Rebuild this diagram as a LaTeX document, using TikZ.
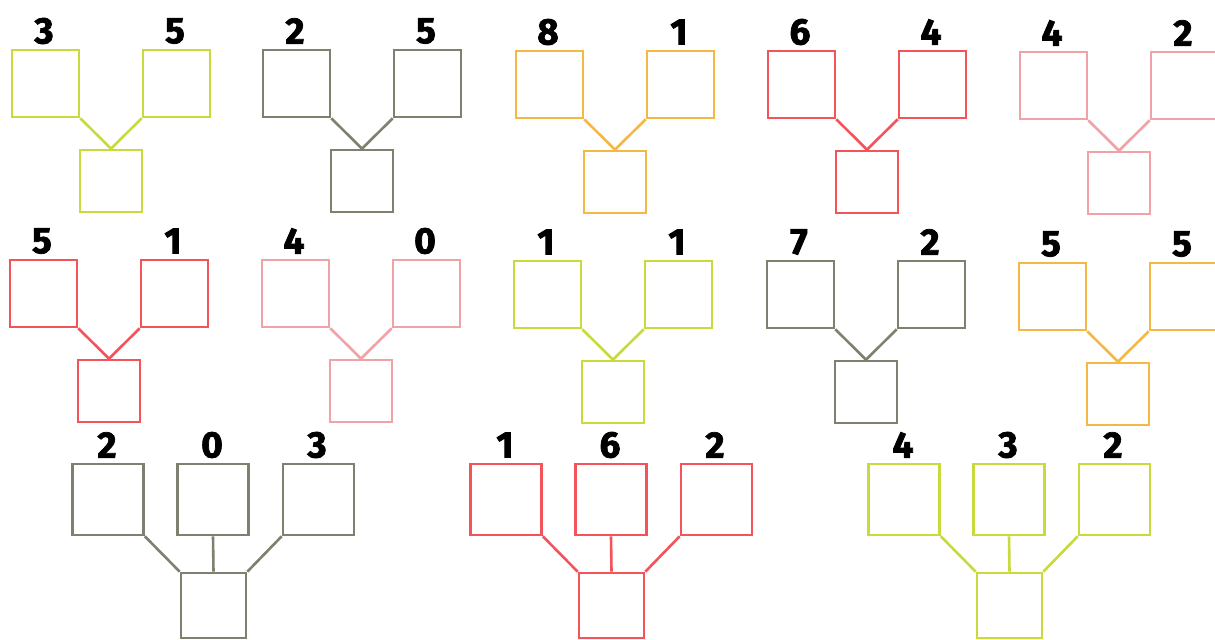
\documentclass[tikz,border=0pt]{standalone}
\usepackage{fontspec}
\setmainfont{Fira Sans}
\newfontfamily\numfont{Fira Sans}[BoldFeatures={FakeBold=2}]
\definecolor{clime}{HTML}{C8DA3C}
\definecolor{cgray}{HTML}{7E8070}
\definecolor{corange}{HTML}{F6B844}
\definecolor{cred}{HTML}{F2545A}
\definecolor{cpink}{HTML}{F0A2A6}
\tikzset{
  box/.style={draw=#1, line width=1.3pt, inner sep=0pt, minimum size=33.5pt},
  sbox/.style={draw=#1, line width=1.3pt, inner sep=0pt, minimum size=31pt},
  wbox/.style={draw=#1, line width=1.3pt, inner sep=0pt, minimum size=35.5pt},
  bbox/.style={draw=#1, line width=1.3pt, inner sep=0pt, minimum size=32.5pt},
  num/.style={font=\numfont\bfseries\fontsize{18.5}{18.5}\selectfont, inner sep=0pt},
  link/.style={draw=#1, line width=1.3pt}
}
\newcommand\twogroup[6]{%
  \node[box=#4] (#1L) at ({#2+33.5},{#3+33.5}) {};
  \node[box=#4] (#1R) at ({#2+164.5},{#3+33.5}) {};
  \node[sbox=#4] (#1B) at ({#2+99},{#3+131}) {};
  \node[num] (#1a) at ({#2+32},{#3-19}) {#5};
  \node[num] (#1b) at ({#2+163},{#3-19}) {#6};
  \draw[link=#4] (#1L.south east) -- (#1B.north);
  \draw[link=#4] (#1R.south west) -- (#1B.north);
}
\newcommand\threegroup[6]{%
  \node[wbox=#3] (#1L) at ({#2+36},499.5) {};
  \node[wbox=#3] (#1M) at ({#2+141},499.5) {};
  \node[wbox=#3] (#1R) at ({#2+246.5},499.5) {};
  \node[bbox=#3] (#1B) at ({#2+141.5},605.5) {};
  \node[num] (#1a) at ({#2+35},445) {#4};
  \node[num] (#1b) at ({#2+140},445) {#5};
  \node[num] (#1c) at ({#2+245},445) {#6};
  \draw[link=#3] (#1L.south east) -- (#1B.north west);
  \draw[link=#3] (#1M.south) -- (#1B.north);
  \draw[link=#3] (#1R.south west) -- (#1B.north east);
}
\begin{document}
\begin{tikzpicture}[x=0.5pt,y=-0.5pt]
\fill[white] (0,0) rectangle (1215,640);
\useasboundingbox (0,0) rectangle (1215,640);
\twogroup{pa}{12}{50}{clime}{3}{5}
\twogroup{pb}{263}{50}{cgray}{2}{5}
\twogroup{pc}{516}{51}{corange}{8}{1}
\twogroup{pd}{768}{51}{cred}{6}{4}
\twogroup{pe}{1020}{52}{cpink}{4}{2}
\twogroup{qa}{10}{260}{cred}{5}{1}
\twogroup{qb}{262}{260}{cpink}{4}{0}
\twogroup{qc}{514}{261}{clime}{1}{1}
\twogroup{qd}{767}{261}{cgray}{7}{2}
\twogroup{qe}{1019}{263}{corange}{5}{5}
\threegroup{ra}{72}{cgray}{2}{0}{3}
\threegroup{rb}{470}{cred}{1}{6}{2}
\threegroup{rc}{868}{clime}{4}{3}{2}
\end{tikzpicture}
\end{document}
